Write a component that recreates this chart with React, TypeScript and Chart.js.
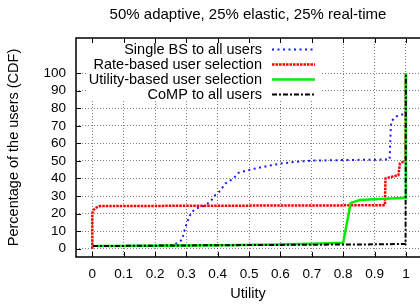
import React, { useEffect, useRef } from 'react';
import { Chart, registerables } from 'chart.js';

Chart.register(...registerables);

const TITLE = '50% adaptive, 25% elastic, 25% real-time';
const X_TITLE = 'Utility';
const Y_TITLE = 'Percentage of the users (CDF)';
const X_TICKS = [0, 0.1, 0.2, 0.3, 0.4, 0.5, 0.6, 0.7, 0.8, 0.9, 1];
const Y_TICKS = [0, 10, 20, 30, 40, 50, 60, 70, 80, 90, 100];
const SERIES_LABELS = [
  'Single BS to all users',
  'Rate-based user selection',
  'Utility-based user selection',
  'CoMP to all users',
];

const singleBsX = [0.02, 0.1, 0.2, 0.25, 0.264, 0.286, 0.296, 0.307, 0.317, 0.333, 0.355, 0.376, 0.392, 0.408, 0.424, 0.45, 0.466, 0.487, 0.52, 0.556, 0.6, 0.65, 0.705, 0.8, 0.9, 0.948, 0.95, 0.952, 0.954, 0.97, 0.986, 0.999, 1.0];
const singleBsY = [1.5, 1.6, 1.8, 2.0, 2.5, 5, 11.6, 17.3, 21, 23, 24.3, 26.7, 30.5, 33, 37.1, 40, 43.2, 44.3, 45.7, 47, 48.5, 49.5, 50.2, 50.5, 50.7, 50.8, 60, 69.3, 72.7, 75.4, 76.4, 76.6, 100];

const rateX = [0, 0, 0.003, 0.013, 0.024, 0.2, 0.4, 0.6, 0.8, 0.933, 0.935, 0.94, 0.976, 0.981, 0.99, 0.999, 1.0];
const rateY = [0, 20, 22, 23.5, 24.3, 24.4, 24.5, 24.6, 24.7, 24.8, 40, 40.3, 41.9, 48.5, 49.4, 49.6, 100];

const utilityX = [0.015, 0.2, 0.4, 0.6, 0.7, 0.8, 0.824, 0.854, 0.9, 0.95, 1.0, 1.0];
const utilityY = [1.5, 1.7, 2.0, 2.4, 2.8, 3.4, 26.1, 27.7, 28.2, 28.6, 29, 100];

const compX = [0.002, 0.3, 0.6, 0.9, 0.999, 1.0];
const compY = [1.5, 1.9, 2.2, 2.5, 2.7, 100];

const FONT = 'Liberation Sans, Arial, Helvetica, sans-serif';

const zip = (xs: number[], ys: number[]) => xs.map((x, i) => ({ x, y: ys[i] }));

const framePlugin = {
  id: 'gnuFrame',
  afterDraw(chart: any) {
    const { ctx, chartArea, scales } = chart;
    const { left, right, top, bottom } = chartArea;
    const xs = scales.x;
    const ys = scales.y;
    ctx.save();
    // legend box
    const boxL = left + 10;
    const boxR = left + 246;
    const boxB = top + 62;
    ctx.fillStyle = '#fff';
    ctx.fillRect(boxL, top, boxR - boxL, boxB - top);
    ctx.font = `14.5px ${FONT}`;
    ctx.textAlign = 'right';
    ctx.textBaseline = 'middle';
    ctx.fillStyle = '#000';
    chart.data.datasets.forEach((ds: any, i: number) => {
      const cy = top + 11.5 + i * 15;
      ctx.fillText(ds.label, left + 186, cy);
      ctx.save();
      ctx.strokeStyle = ds.borderColor;
      ctx.lineWidth = ds.borderWidth;
      ctx.setLineDash(ds.borderDash || []);
      ctx.beginPath();
      ctx.moveTo(left + 196, cy);
      ctx.lineTo(left + 239, cy);
      ctx.stroke();
      ctx.restore();
    });
    // frame
    ctx.strokeStyle = '#000';
    ctx.lineWidth = 1.5;
    ctx.beginPath();
    ctx.moveTo(right + 2, top);
    ctx.lineTo(left, top);
    ctx.lineTo(left, bottom);
    ctx.lineTo(right + 2, bottom);
    ctx.stroke();
    // inward ticks
    ctx.lineWidth = 1;
    ctx.beginPath();
    X_TICKS.forEach((v) => {
      const px = Math.round(xs.getPixelForValue(v)) + 0.5;
      ctx.moveTo(px, bottom);
      ctx.lineTo(px, bottom - 5);
      ctx.moveTo(px, top);
      ctx.lineTo(px, top + 5);
    });
    Y_TICKS.forEach((v) => {
      const py = Math.round(ys.getPixelForValue(v)) + 0.5;
      ctx.moveTo(left, py);
      ctx.lineTo(left + 5, py);
    });
    ctx.stroke();
    ctx.restore();
  },
};

export default function App() {
  const ref = useRef<HTMLCanvasElement | null>(null);
  useEffect(() => {
    if (!ref.current) return;
    const grid = { color: 'rgba(0,0,0,0.5)', lineWidth: 1, drawTicks: false };
    const chart = new Chart(ref.current, {
      type: 'line',
      data: {
        datasets: [
          { label: SERIES_LABELS[0], data: zip(singleBsX, singleBsY), borderColor: '#1a1aff', borderWidth: 2, borderDash: [2, 3.5], order: 4 },
          { label: SERIES_LABELS[1], data: zip(rateX, rateY), borderColor: '#ff0000', borderWidth: 2.5, borderDash: [2.5, 1], order: 3 },
          { label: SERIES_LABELS[2], data: zip(utilityX, utilityY), borderColor: '#00ee00', borderWidth: 2.5, order: 2 },
          { label: SERIES_LABELS[3], data: zip(compX, compY), borderColor: '#000000', borderWidth: 2, borderDash: [5, 2, 2, 2], order: 1 },
        ].map((d) => ({ ...d, pointRadius: 0, fill: false, tension: 0 })) as any,
      },
      options: {
        responsive: false,
        animation: false,
        layout: { padding: 0 },
        plugins: {
          legend: { display: false },
          tooltip: { enabled: false },
          title: {
            display: true,
            text: TITLE,
            fullSize: false,
            color: '#000',
            font: { family: FONT, size: 15, weight: 'normal' },
            padding: { top: 6, bottom: 14 },
          },
        },
        scales: {
          x: {
            type: 'linear',
            min: -0.052,
            max: 1.045,
            afterBuildTicks: (s: any) => {
              s.ticks = X_TICKS.map((v) => ({ value: v }));
            },
            afterFit: (s: any) => {
              s.height = 47;
            },
            ticks: {
              autoSkip: false,
              maxRotation: 0,
              padding: 9,
              color: '#000',
              font: { family: FONT, size: 13.5 },
              callback: (v: any) => String(Number(Number(v).toFixed(1))),
            },
            grid,
            border: { display: false, dash: [1, 2] },
            title: {
              display: true,
              text: X_TITLE,
              color: '#000',
              font: { family: FONT, size: 14.5 },
              padding: { top: 0, bottom: 1 },
            },
          },
          y: {
            type: 'linear',
            min: -4.7,
            max: 120,
            afterBuildTicks: (s: any) => {
              s.ticks = Y_TICKS.map((v) => ({ value: v }));
            },
            afterFit: (s: any) => {
              s.width = 76;
            },
            ticks: {
              autoSkip: false,
              padding: 10,
              color: '#000',
              font: { family: FONT, size: 13.5 },
              callback: (v: any) => String(v),
            },
            grid,
            border: { display: false, dash: [1, 2] },
            title: {
              display: true,
              text: Y_TITLE,
              color: '#000',
              font: { family: FONT, size: 14.5 },
              padding: { top: 5, bottom: 0 },
            },
          },
        },
      } as any,
      plugins: [framePlugin],
    });
    return () => chart.destroy();
  }, []);
  return (
    <div style={{ position: 'absolute', left: 0, top: 0, width: 420, height: 304, background: '#fff' }}>
      <canvas ref={ref} width={420} height={304} style={{ display: 'block' }} />
    </div>
  );
}
